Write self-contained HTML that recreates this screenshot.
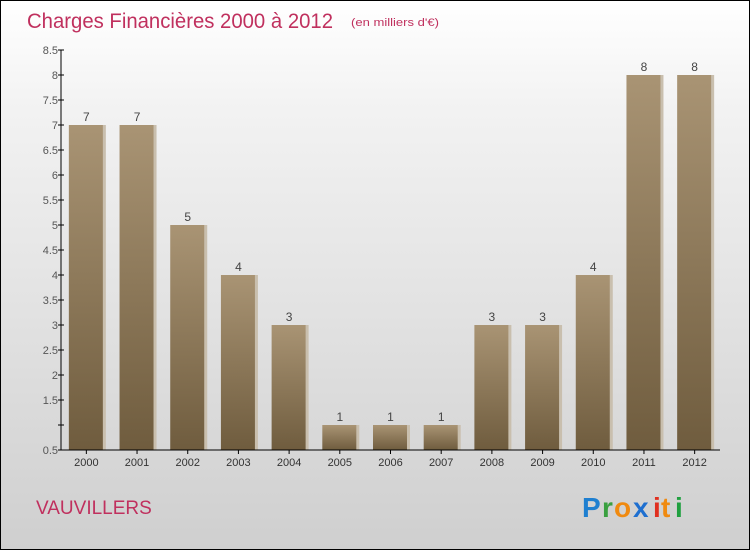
<!DOCTYPE html>
<html><head><meta charset="utf-8"><style>
html,body{margin:0;padding:0}
body{width:750px;height:550px;overflow:hidden;font-family:"Liberation Sans",sans-serif}
#wrap{position:absolute;left:0;top:0;width:748px;height:548px;border:1px solid #000;background:linear-gradient(#ffffff,#f2f2f2 20%,#cfcfcf)}
</style></head><body>
<div id="wrap">
<svg id="chart" width="750" height="550" style="position:absolute;left:-1px;top:-1px">
<defs>
<linearGradient id="bg" x1="0" y1="0" x2="0" y2="1"><stop offset="0" stop-color="#a99474"/><stop offset="1" stop-color="#6f5c3e"/></linearGradient>
</defs>
<text x="27" y="28" font-size="21" fill="#c0305e" textLength="306" lengthAdjust="spacingAndGlyphs">Charges Financières 2000 à 2012</text>
<text x="351" y="26" font-size="11" fill="#c0305e" textLength="88" lengthAdjust="spacingAndGlyphs">(en milliers d'€)</text>
<text x="36" y="514" font-size="19" fill="#c0305e">VAUVILLERS</text>
<g font-size="28" font-weight="bold" font-family="'Liberation Sans',sans-serif">
<text x="582" y="517" fill="#1e7fd0">P</text><text x="602" y="517" fill="#3aa040">r</text><text x="614" y="517" fill="#f08a10">o</text><text x="633" y="517" fill="#1e6fd0">x</text><text x="653" y="517" fill="#e03020">i</text><text x="661" y="517" fill="#f08a10">t</text><text x="675" y="517" fill="#20a040">i</text>
</g>
<g id="g"></g>
</svg>
</div>
<script>
const years=["2000","2001","2002","2003","2004","2005","2006","2007","2008","2009","2010","2011","2012"];
const values=[7,7,5,4,3,1,1,1,3,3,4,8,8];
const ticks=[0.5,1,1.5,2,2.5,3,3.5,4,4.5,5,5.5,6,6.5,7,7.5,8,8.5];
const tickLabels=["0.5","","1.5","2","2.5","3","3.5","4","4.5","5","5.5","6","6.5","7","7.5","8","8.5"];
const NS="http://www.w3.org/2000/svg";
const g=document.getElementById('g');
const X0=61,X1=720,Y0=450,Y1=50,vmin=0.5,vmax=8.5;
const bw=(X1-X0)/years.length;
function y(v){return Y0-(v-vmin)/(vmax-vmin)*(Y0-Y1);}
function xc(i){return X0+bw*(i+0.5);}
function el(t,a){const e=document.createElementNS(NS,t);for(const k in a)e.setAttribute(k,a[k]);g.appendChild(e);return e;}
values.forEach((v,i)=>{
 const sh=el('rect',{x:xc(i)-17.5+2,y:y(v),width:35,height:Y0-y(v),fill:'#c9bfae'});
 
 
 const r=el('rect',{x:xc(i)-17.5,y:y(v),width:34,height:Y0-y(v),fill:'url(#bg)'});
 
 
 const t=el('text',{x:xc(i),y:y(v)-4,'font-size':12,fill:'#444','text-anchor':'middle'});
 t.textContent=values[i];
 
 
 const l=el('text',{x:xc(i),y:466,'font-size':11,fill:'#333','text-anchor':'middle'});
 l.textContent=years[i];
 
 
 const tk=el('line',{x1:xc(i),x2:xc(i),y1:Y0,y2:Y0+4,stroke:'#000'});
 
 
});
ticks.forEach((v,i)=>{
 const tk=el('line',{x1:X0-3,x2:X0+3,y1:y(v),y2:y(v),stroke:'#000'});
 
 
 const t=el('text',{x:X0-3,y:y(v)+4,'font-size':11,fill:'#555','text-anchor':'end'});
 t.textContent=tickLabels[i];
 
 
});
const ya=el('line',{x1:X0,x2:X0,y1:Y1,y2:Y0,stroke:'#000'});


const xa=el('line',{x1:X0,x2:X1,y1:Y0,y2:Y0,stroke:'#000'});


</script>
</body></html>
